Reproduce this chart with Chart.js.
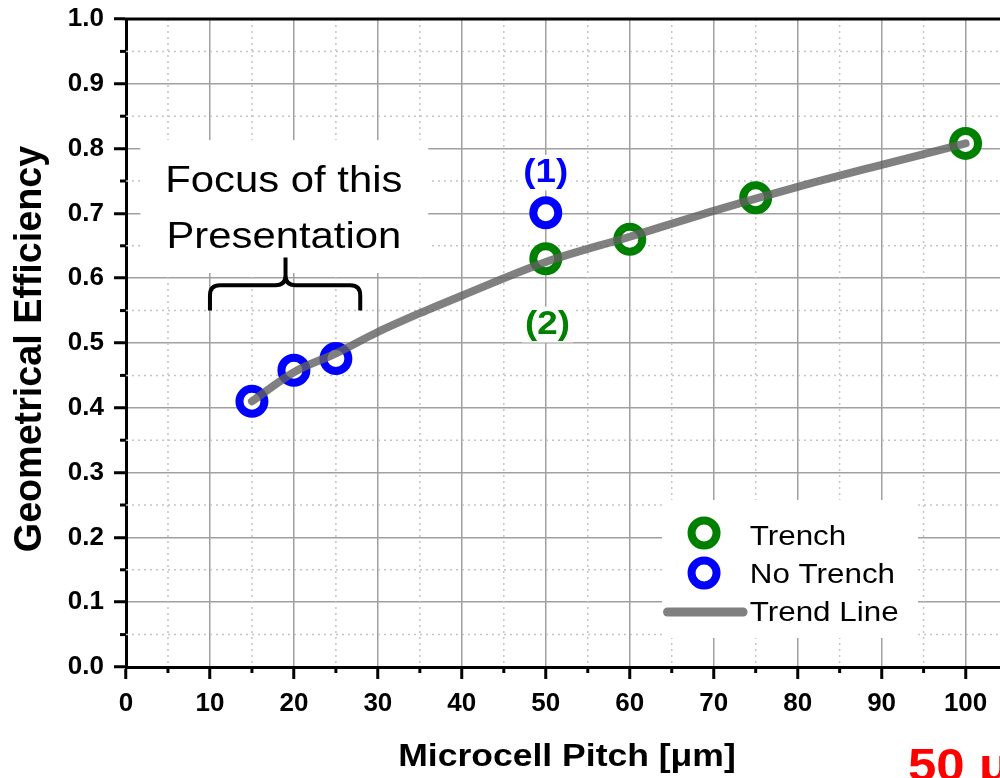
<!DOCTYPE html>
<html>
<head>
<meta charset="utf-8">
<script src="https://cdn.jsdelivr.net/npm/chart.js@4.4.0/dist/chart.umd.min.js"></script>
<style>
  html, body { margin: 0; padding: 0; background: #fff; }
  #wrap { width: 1000px; height: 778px; }
</style>
</head>
<body>
<div id="wrap"><canvas id="grafica" width="1000" height="778"></canvas></div>
<script>
// Datos
const trenchX   = [50, 60, 75, 100];
const trenchY   = [0.630, 0.660, 0.724, 0.808];
const noTrenchX = [15, 20, 25, 50];
const noTrenchY = [0.410, 0.458, 0.476, 0.701];
const trendX    = [15, 20, 25, 30, 35, 40, 50, 60, 70, 80, 90, 100];
const trendY    = [0.410, 0.455, 0.484, 0.517, 0.546, 0.573, 0.625, 0.664, 0.704, 0.741, 0.775, 0.808];

const xTicks  = [0, 10, 20, 30, 40, 50, 60, 70, 80, 90, 100];
const yTicks  = [0, 0.1, 0.2, 0.3, 0.4, 0.5, 0.6, 0.7, 0.8, 0.9, 1.0];
const xMinor  = [5, 15, 25, 35, 45, 55, 65, 75, 85, 95];
const yMinor  = [0.05, 0.15, 0.25, 0.35, 0.45, 0.55, 0.65, 0.75, 0.85, 0.95];
const legendLabels = ['Trench', 'No Trench', 'Trend Line'];

const FONT  = '"Liberation Sans", Arial, sans-serif';
const GREEN = '#008000';
const BLUE  = '#0000ff';
const GRIS  = 'rgba(96,96,96,0.8)';

// texto con estiramiento horizontal (la figura original esta algo ensanchada)
function texto(ctx, str, x, y, size, o = {}) {
  ctx.save();
  ctx.font = `${o.bold ? 'bold ' : ''}${size}px ${FONT}`;
  ctx.fillStyle = o.color || '#000';
  ctx.textAlign = o.align || 'left';
  ctx.textBaseline = 'alphabetic';
  ctx.translate(x, y);
  if (o.rot) ctx.rotate(o.rot);
  ctx.scale(o.sx || 1, o.sy || 1);
  if (o.bg) {
    const w = ctx.measureText(str).width;
    const x0 = o.align === 'center' ? -w / 2 : 0;
    ctx.fillStyle = '#fff';
    ctx.fillRect(x0 - 3, -size * 0.8, w + 6, size * 1.05);
    ctx.fillStyle = o.color || '#000';
  }
  ctx.fillText(str, 0, 0);
  ctx.restore();
}

function anillo(ctx, x, y, color) {
  ctx.save();
  ctx.beginPath();
  ctx.arc(x, y, 12.5, 0, Math.PI * 2);
  ctx.fillStyle = '#fff';
  ctx.fill();
  ctx.lineWidth = 8;
  ctx.strokeStyle = color;
  ctx.stroke();
  ctx.restore();
}

const extras = {
  id: 'extras',
  beforeDatasetsDraw(chart) {
    const ctx = chart.ctx;
    const { left, right, top, bottom } = chart.chartArea;
    const sx = chart.scales.x, sy = chart.scales.y;
    const px = v => sx.getPixelForValue(v);
    const py = v => sy.getPixelForValue(v);

    // rejilla menor punteada
    ctx.save();
    ctx.strokeStyle = '#c4c4c4';
    ctx.lineWidth = 1.5;
    ctx.setLineDash([2, 4]);
    xMinor.forEach(v => {
      ctx.beginPath(); ctx.moveTo(px(v), top); ctx.lineTo(px(v), bottom); ctx.stroke();
    });
    yMinor.forEach(v => {
      ctx.beginPath(); ctx.moveTo(left, py(v)); ctx.lineTo(right, py(v)); ctx.stroke();
    });
    ctx.restore();

    // marcas menores
    ctx.save();
    ctx.strokeStyle = '#000';
    ctx.lineWidth = 3;
    xMinor.forEach(v => {
      ctx.beginPath(); ctx.moveTo(px(v), bottom); ctx.lineTo(px(v), bottom + 6); ctx.stroke();
    });
    yMinor.forEach(v => {
      ctx.beginPath(); ctx.moveTo(left, py(v)); ctx.lineTo(left - 6, py(v)); ctx.stroke();
    });
    // borde superior
    ctx.beginPath(); ctx.moveTo(left - 1.5, top); ctx.lineTo(right, top); ctx.stroke();
    ctx.restore();

    // caja "Focus of this Presentation"
    ctx.save();
    ctx.fillStyle = '#fff';
    ctx.fillRect(px(1.7), py(0.813), px(36) - px(1.7), py(0.608) - py(0.813));
    ctx.restore();
    texto(ctx, 'Focus of this', px(18.8), py(0.733), 37, { align: 'center', sx: 1.13 });
    texto(ctx, 'Presentation', px(18.8), py(0.6466), 37, { align: 'center', sx: 1.13 });

    // llave
    const L = px(10), C = px(19), R = px(27.9);
    const B = py(0.55), H = py(0.589), P = py(0.632), r = 10;
    ctx.save();
    ctx.strokeStyle = '#000';
    ctx.lineWidth = 4;
    ctx.lineJoin = 'round';
    ctx.beginPath();
    ctx.moveTo(L, B);
    ctx.lineTo(L, H + r);
    ctx.quadraticCurveTo(L, H, L + r, H);
    ctx.lineTo(C - r, H);
    ctx.quadraticCurveTo(C, H, C, H - r);
    ctx.lineTo(C, P);
    ctx.moveTo(C, H - r);
    ctx.quadraticCurveTo(C, H, C + r, H);
    ctx.lineTo(R - r, H);
    ctx.quadraticCurveTo(R, H, R, H + r);
    ctx.lineTo(R, B);
    ctx.stroke();
    ctx.restore();

    // etiquetas (1) y (2)
    texto(ctx, '(1)', px(50), py(0.7485), 34, { bold: true, align: 'center', sx: 1.08, color: BLUE, bg: true });
    texto(ctx, '(2)', px(50.2), py(0.514), 34, { bold: true, align: 'center', sx: 1.08, color: GREEN, bg: true });

    // leyenda
    ctx.save();
    ctx.fillStyle = '#fff';
    ctx.fillRect(px(63.85), py(0.2577), px(94.34) - px(63.85), py(0.0448) - py(0.2577));
    ctx.restore();
    const tx = px(74.3);
    anillo(ctx, px(68.85), 533, GREEN);
    texto(ctx, legendLabels[0], tx, 545, 28, { sx: 1.12 });
    anillo(ctx, px(68.85), 573, BLUE);
    texto(ctx, legendLabels[1], tx, 583, 28, { sx: 1.12 });
    ctx.save();
    ctx.strokeStyle = '#808080';
    ctx.lineWidth = 9;
    ctx.lineCap = 'round';
    ctx.beginPath(); ctx.moveTo(px(64.5), 612); ctx.lineTo(px(73.5), 612); ctx.stroke();
    ctx.restore();
    texto(ctx, legendLabels[2], tx, 621, 28, { sx: 1.12 });
  },
  afterDraw(chart) {
    const ctx = chart.ctx;
    // titulos de ejes
    texto(ctx, 'Microcell Pitch [μm]', 567, 766, 32, { bold: true, align: 'center', sx: 1.11 });
    texto(ctx, 'Geometrical Efficiency', 41, 349, 37.7, { bold: true, align: 'center', rot: -Math.PI / 2, sy: 1.05 });
    texto(ctx, '50 μm', 908, 781, 45.5, { bold: true, sx: 1.12, color: '#ff0000' });
  }
};

const ctx = document.getElementById('grafica').getContext('2d');
const chart = new Chart(ctx, {
  type: 'scatter',
  data: {
    datasets: [
      {
        label: 'Trend Line',
        data: trendX.map((x, i) => ({ x, y: trendY[i] })),
        showLine: true,
        borderColor: GRIS,
        borderWidth: 8,
        borderCapStyle: 'round',
        cubicInterpolationMode: 'monotone',
        pointRadius: 0,
        order: 0
      },
      {
        label: 'Trench',
        data: trenchX.map((x, i) => ({ x, y: trenchY[i] })),
        pointRadius: 12.5,
        borderWidth: 8,
        borderColor: GREEN,
        backgroundColor: '#fff',
        order: 1
      },
      {
        label: 'No Trench',
        data: noTrenchX.map((x, i) => ({ x, y: noTrenchY[i] })),
        pointRadius: 12.5,
        borderWidth: 8,
        borderColor: BLUE,
        backgroundColor: '#fff',
        order: 1
      }
    ]
  },
  options: {
    responsive: false,
    animation: false,
    events: [],
    layout: { autoPadding: false, padding: { top: 19, right: 0, left: 0, bottom: 0 } },
    plugins: { legend: { display: false }, tooltip: { enabled: false } },
    scales: {
      x: {
        type: 'linear',
        min: 0,
        max: 104.1,
        afterBuildTicks: s => { s.ticks = xTicks.map(v => ({ value: v })); },
        afterFit: s => { s.height = 111; s.paddingLeft = 0; s.paddingRight = 0; },
        ticks: {
          color: '#000',
          padding: 9,
          maxRotation: 0,
          font: { family: FONT, size: 26, weight: 'bold' },
          callback: v => String(v)
        },
        grid: { color: '#a0a0a0', lineWidth: 1.5, tickColor: '#000', tickWidth: 3, tickLength: 12 },
        border: { color: '#000', width: 3 }
      },
      y: {
        type: 'linear',
        min: 0,
        max: 1,
        afterBuildTicks: s => { s.ticks = yTicks.map(v => ({ value: v })); },
        afterFit: s => { s.width = 126; s.paddingTop = 0; s.paddingBottom = 0; },
        ticks: {
          color: '#000',
          padding: 10,
          font: { family: FONT, size: 26, weight: 'bold' },
          callback: v => Number(v).toFixed(1)
        },
        grid: { color: '#a0a0a0', lineWidth: 1.5, tickColor: '#000', tickWidth: 3, tickLength: 12 },
        border: { color: '#000', width: 3 }
      }
    }
  },
  plugins: [extras]
});
</script>
</body>
</html>
